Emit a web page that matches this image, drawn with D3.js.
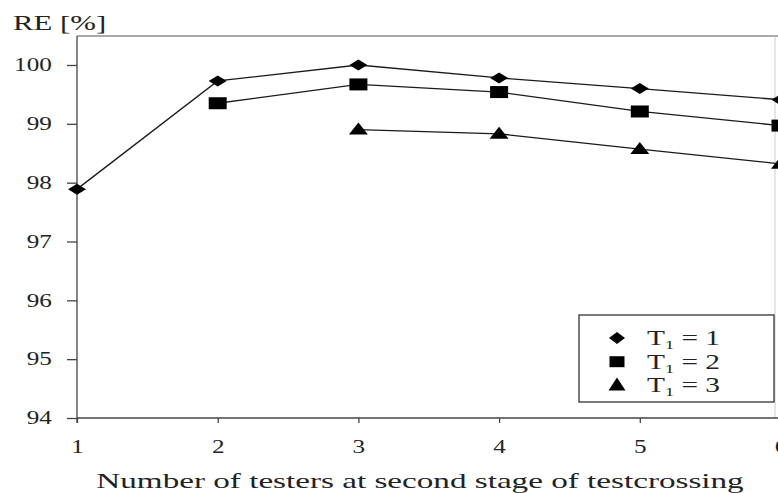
<!DOCTYPE html>
<html>
<head>
<meta charset="utf-8">
<script src="https://cdn.jsdelivr.net/npm/d3@7"></script>
<style>
  html, body { margin: 0; padding: 0; background: #fff; }
  svg { display: block; }
  text { font-family: "Liberation Serif", "DejaVu Serif", serif; fill: #222; }
</style>
</head>
<body>
<svg id="chart" width="778" height="493"></svg>
<script>
// ---- data ----
const testers = [1, 2, 3, 4, 5, 6];
const seriesNames = ["1", "2", "3"];
const reT1 = [97.89, 99.73, 100.0, 99.78, 99.60, 99.41];
const reT2 = [null, 99.35, 99.67, 99.54, 99.21, 98.97];
const reT3 = [null, null, 98.90, 98.83, 98.57, 98.32];
const yTicks = [94, 95, 96, 97, 98, 99, 100];
const xTicks = [1, 2, 3, 4, 5, 6];
const yLabel = "RE [%]";
const xLabel = "Number of testers at second stage of testcrossing";

const SX = 1.4; // horizontal stretch of the scanned figure text
const svg = d3.select("#chart");
const ink = "#1a1a1a";

const x = d3.scaleLinear().domain([1, 6]).range([77, 780.5]);
const y = d3.scaleLinear().domain([94, 100]).range([418, 65]);
const yTop = y.invert(36);

// frame
svg.append("line").attr("x1", x(1)).attr("x2", 778).attr("y1", y(yTop)).attr("y2", y(yTop))
  .attr("stroke", "#555").attr("stroke-width", 1.2);
svg.append("line").attr("x1", 775).attr("x2", 775).attr("y1", y(yTop)).attr("y2", y(94))
  .attr("stroke", "#ccc").attr("stroke-width", 1);

// axes
const yAxis = svg.append("g").attr("transform", `translate(${x(1)},0)`)
  .call(d3.axisLeft(y).tickValues(yTicks).tickFormat(d3.format("d")).tickSize(10).tickSizeOuter(0).tickPadding(8));
yAxis.select(".domain").attr("d", `M0,${y(yTop)}V${y(94) + 5}`);
yAxis.selectAll("line, path").attr("stroke", "#444").attr("stroke-width", 1.3);
yAxis.selectAll("text").attr("font-size", 18).attr("fill", ink)
  .attr("font-family", "Liberation Serif").attr("transform", `scale(${SX},1)`);

const xAxis = svg.append("g").attr("transform", `translate(0,${y(94)})`)
  .call(d3.axisBottom(x).tickValues(xTicks).tickFormat(d3.format("d")).tickSize(5).tickSizeOuter(0).tickPadding(17));
xAxis.select(".domain").attr("d", `M${x(1)},0H778`);
xAxis.selectAll("line, path").attr("stroke", "#444").attr("stroke-width", 1.3);
xAxis.selectAll("text").attr("font-size", 18).attr("fill", ink)
  .attr("font-family", "Liberation Serif").attr("transform", `scale(${SX},1)`);

// titles
svg.append("text").attr("transform", `translate(13,30) scale(${SX},1)`)
  .attr("font-size", 22).attr("fill", ink).text(yLabel);
svg.append("text").attr("transform", `translate(420,488) scale(1.58,1)`)
  .attr("text-anchor", "middle").attr("font-size", 21).attr("fill", ink).text(xLabel);

// marker shapes
const shapes = {
  diamond: (w, h) => `M0,${-h/2}L${w/2},0L0,${h/2}L${-w/2},0Z`,
  square: (w, h) => `M${-w/2},${-h/2}H${w/2}V${h/2}H${-w/2}Z`,
  triangle: (w, h) => `M0,${-h*0.6}L${w/2},${h*0.4}L${-w/2},${h*0.4}Z`
};
const series = [
  { name: seriesNames[0], values: reT1, shape: "diamond", w: 18, h: 11 },
  { name: seriesNames[1], values: reT2, shape: "square", w: 18, h: 12 },
  { name: seriesNames[2], values: reT3, shape: "triangle", w: 19, h: 12 }
];

const line = d3.line().defined(d => d.v != null).x(d => x(d.t)).y(d => y(d.v));
series.forEach(s => {
  const pts = testers.map((t, i) => ({ t, v: s.values[i] })).filter(d => d.v != null);
  svg.append("path").datum(pts).attr("d", line)
    .attr("fill", "none").attr("stroke", ink).attr("stroke-width", 1.3);
  svg.append("g").selectAll("path").data(pts).join("path")
    .attr("transform", d => `translate(${x(d.t)},${y(d.v)})`)
    .attr("d", shapes[s.shape](s.w, s.h)).attr("fill", "#000");
});

// legend
const lg = svg.append("g");
lg.append("rect").attr("x", 579).attr("y", 315).attr("width", 195).attr("height", 87)
  .attr("fill", "#fff").attr("stroke", "#333").attr("stroke-width", 1.3);
series.forEach((s, i) => {
  const cy = 338 + i * 23.7;
  lg.append("path").attr("transform", `translate(617,${cy})`)
    .attr("d", shapes[s.shape](s.shape === "square" ? 15 : s.w - 2, s.shape === "square" ? 11 : s.h + 1)).attr("fill", "#000");
  const t = lg.append("text").attr("transform", `translate(647,${cy + 7}) scale(${SX},1)`)
    .attr("font-size", 21).attr("fill", ink);
  t.append("tspan").text("T");
  t.append("tspan").attr("font-size", 13).attr("dy", 4).text("1");
  t.append("tspan").attr("dy", -4).text(" = " + s.name);
});
</script>
</body>
</html>
